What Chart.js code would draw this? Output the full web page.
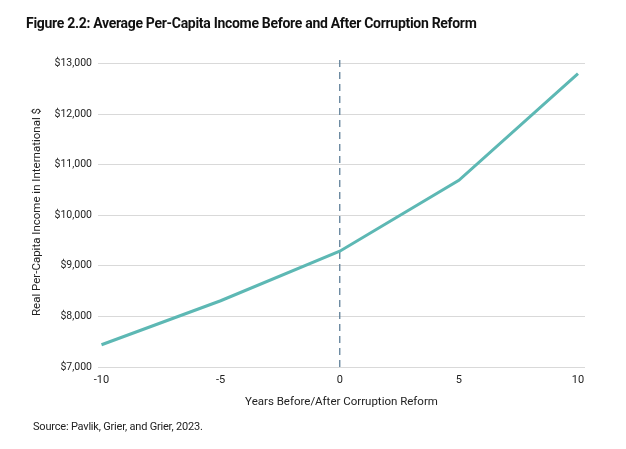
<!DOCTYPE html>
<html>
<head>
<meta charset="utf-8">
<script src="https://cdn.jsdelivr.net/npm/chart.js@4/dist/chart.umd.min.js"></script>
<style>
  body { margin: 0; background: #fff; }
  #wrap { position: relative; width: 626px; height: 449px; }
  #title { position: absolute; left: 26px; top: 15px; font: bold 14px "Roboto", sans-serif; color: #111; letter-spacing: -0.3px; }
  #source { position: absolute; left: 33px; top: 420px; font: 11px "Roboto", sans-serif; color: #222; letter-spacing: -0.2px; }
  canvas { position: absolute; left: 0; top: 0; }
</style>
</head>
<body>
<div id="wrap">
  <canvas id="chart" width="626" height="449"></canvas>
  <div id="title">Figure 2.2: Average Per-Capita Income Before and After Corruption Reform</div>
  <div id="source">Source: Pavlik, Grier, and Grier, 2023.</div>
</div>
<script>
const years = [-10, -5, 0, 5, 10];
const income = [7440, 8310, 9290, 10690, 12800];
const xTicks = [-10, -5, 0, 5, 10];
const yTicks = [7000, 8000, 9000, 10000, 11000, 12000, 13000];
const reformYear = 0;

const font = { family: '"Roboto", sans-serif', size: 10.5 };

new Chart(document.getElementById('chart'), {
  type: 'line',
  data: {
    datasets: [
      {
        label: 'Income',
        data: years.map((y, i) => ({ x: y, y: income[i] })),
        borderColor: '#5db8b4',
        borderWidth: 3,
        pointRadius: 0,
        tension: 0
      },
      {
        label: 'Reform',
        data: [{ x: reformYear, y: 7000 }, { x: reformYear, y: 13130 }],
        borderColor: '#5f7f99',
        borderWidth: 1.3,
        borderDash: [7, 5],
        pointRadius: 0
      }
    ]
  },
  options: {
    responsive: false,
    animation: false,
    layout: { padding: { top: 57, left: 30, right: 41, bottom: 40 } },
    plugins: { legend: { display: false }, tooltip: { enabled: false } },
    scales: {
      x: {
        type: 'linear',
        min: -10.147,
        max: 10.294,
        afterBuildTicks: s => { s.ticks = xTicks.map(v => ({ value: v })); },
        afterFit: s => { s.height = 42; },
        grid: { display: false, drawTicks: false },
        border: { display: false },
        ticks: { color: '#222', font: { ...font, size: 11 }, padding: 7 },
        title: { display: true, text: 'Years Before/After Corruption Reform', color: '#222', font: { ...font, size: 11.5 }, padding: 0 }
      },
      y: {
        min: 7000,
        max: 13130,
        afterBuildTicks: s => { s.ticks = yTicks.map(v => ({ value: v })); },
        afterFit: s => { s.width = 68; },
        grid: { color: '#d9d9d9', drawTicks: false },
        border: { display: false },
        ticks: { color: '#222', font, padding: 6, callback: v => '$' + v.toLocaleString('en-US') },
        title: { display: true, text: 'Real Per-Capita Income in International $', color: '#222', font: { ...font, size: 11.5 }, padding: 0 }
      }
    }
  }
});
</script>
</body>
</html>
